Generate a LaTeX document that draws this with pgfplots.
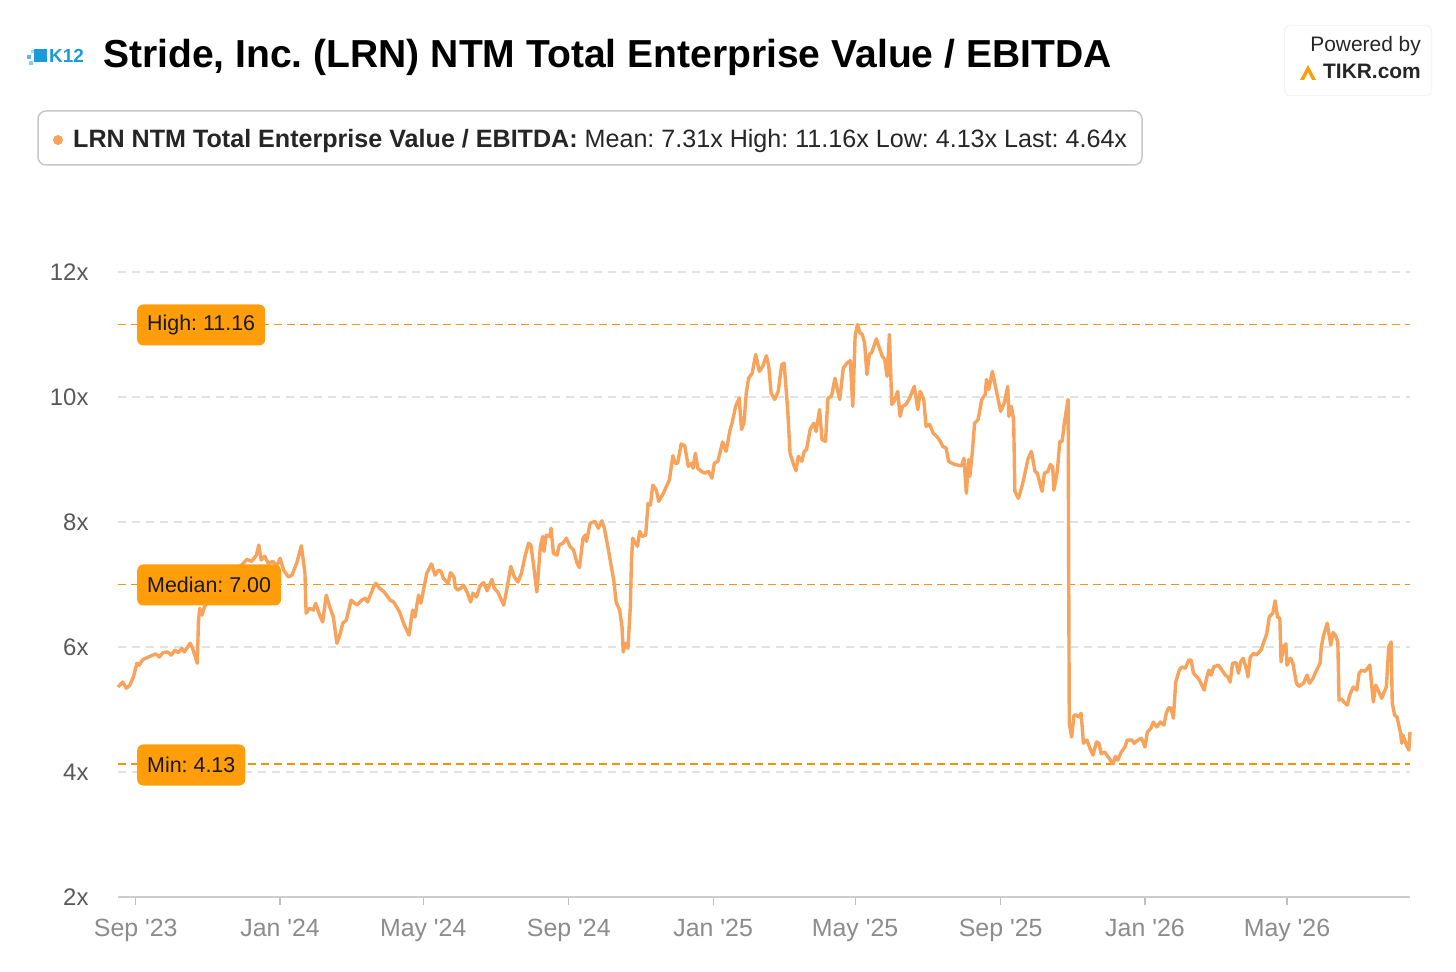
\documentclass[border=0pt]{standalone}
\usepackage{pgfplots}
\pgfplotsset{compat=1.18}
\usepackage{fontspec}
\setmainfont{Liberation Sans}
\frenchspacing
\definecolor{lineor}{HTML}{F7A35C}
\definecolor{dashor}{HTML}{F5940A}
\definecolor{boxor}{HTML}{FF9D0B}
\definecolor{gridc}{HTML}{E2E2E2}
\definecolor{xlab}{HTML}{8C8C8C}
\definecolor{ylab}{HTML}{595959}
\definecolor{k12blue}{HTML}{1B9BD7}
\pgfplotstableread{
d v
-15 5.36
-11 5.44
-8 5.34
-5 5.39
-2 5.52
1 5.74
3 5.71
6 5.80
12 5.85
17 5.89
20 5.84
23 5.91
27 5.92
30 5.87
33 5.95
36 5.91
39 5.98
41 5.92
46 6.06
48 5.98
52 5.74
53 6.40
54 6.62
56 6.51
58 6.64
60 6.70
67 6.85
75 7.05
84 7.22
91 7.34
94 7.40
98 7.37
102 7.47
104 7.63
106 7.39
109 7.45
112 7.34
116 7.37
119 7.29
122 7.42
125 7.23
129 7.12
132 7.15
136 7.34
140 7.62
143 7.18
144 6.54
147 6.62
150 6.59
152 6.70
156 6.48
158 6.40
161 6.83
164 6.64
167 6.48
170 6.06
172 6.16
175 6.38
178 6.43
182 6.75
187 6.67
191 6.75
194 6.78
196 6.72
201 6.96
203 7.02
206 6.94
210 6.88
215 6.75
218 6.72
223 6.56
227 6.35
231 6.19
234 6.59
236 6.48
239 6.83
241 6.70
246 7.18
250 7.33
253 7.15
256 7.23
258 7.21
260 7.10
264 7.02
266 7.19
269 7.12
270 6.96
272 6.91
275 6.94
277 6.99
280 6.88
283 6.72
285 6.86
288 6.80
291 6.98
294 7.03
297 6.90
301 7.08
303 6.94
306 6.88
311 6.67
313 6.86
317 7.29
320 7.12
323 7.04
326 7.18
329 7.45
332 7.66
334 7.63
336 7.34
339 6.88
342 7.61
344 7.77
345 7.53
347 7.79
350 7.77
351 7.90
353 7.50
356 7.47
358 7.63
361 7.66
364 7.74
367 7.61
370 7.55
373 7.34
375 7.27
378 7.74
380 7.79
381 7.69
384 7.98
388 8.01
391 7.90
394 8.02
396 7.90
398 7.71
401 7.39
404 7.07
406 6.72
409 6.59
411 6.32
412 5.92
414 6.06
416 5.98
418 6.64
419 7.39
420 7.74
424 7.61
426 7.85
428 7.77
431 7.79
433 8.30
435 8.27
437 8.59
440 8.51
442 8.33
446 8.46
449 8.59
451 8.67
454 9.06
456 8.94
458 8.94
461 9.25
464 9.22
467 8.89
470 8.94
471 8.86
473 9.10
475 8.86
478 8.81
481 8.78
484 8.81
487 8.70
489 8.94
492 8.97
496 9.28
499 9.13
502 9.45
504 9.58
507 9.85
510 9.98
512 9.48
514 9.58
516 10.06
518 10.30
521 10.38
524 10.68
527 10.41
530 10.49
533 10.66
535 10.49
537 10.06
540 9.96
543 10.09
546 10.52
548 10.54
551 9.80
553 9.10
556 8.92
558 8.82
560 9.05
563 8.97
565 9.13
567 9.16
570 9.48
573 9.58
575 9.45
578 9.80
580 9.32
583 9.29
585 9.98
588 10.01
591 10.30
593 10.12
595 9.96
598 10.46
601 10.54
603 10.57
604 10.58
606 9.85
608 10.97
610 11.16
612 11.03
614 11.00
616 10.87
618 10.36
620 10.68
622 10.71
626 10.93
628 10.81
631 10.65
633 10.60
635 10.33
637 11.00
639 9.88
641 9.93
644 10.09
646 9.69
648 9.85
651 9.88
654 9.98
658 10.17
661 9.80
663 10.09
666 9.96
668 9.53
671 9.56
674 9.42
677 9.37
680 9.29
682 9.21
685 9.18
687 8.97
690 8.94
692 8.92
695 8.91
698 8.90
700 9.02
702 8.46
704 9.00
705 8.73
707 9.10
709 9.58
712 9.64
715 9.96
718 10.04
719 10.28
721 10.12
724 10.41
728 10.04
731 9.77
734 9.90
737 10.17
738 9.69
740 9.85
742 9.64
743 8.49
746 8.38
749 8.57
751 8.73
754 9.00
757 9.13
760 8.81
762 8.78
766 8.49
768 8.78
771 8.81
773 8.92
775 8.88
776 8.51
779 8.83
781 9.29
783 9.29
785 9.61
788 9.96
789 4.78
791 4.56
793 4.91
795 4.91
797 4.88
799 4.94
801 4.46
804 4.51
806 4.40
809 4.27
812 4.48
814 4.46
816 4.29
819 4.32
823 4.21
826 4.13
828 4.25
830 4.19
833 4.32
836 4.40
838 4.51
842 4.51
844 4.46
847 4.51
850 4.54
853 4.40
855 4.64
858 4.70
860 4.80
863 4.72
866 4.80
869 4.75
871 4.94
873 5.03
875 5.02
877 4.86
879 5.44
882 5.63
884 5.68
887 5.66
890 5.79
892 5.79
894 5.58
897 5.52
899 5.47
903 5.31
905 5.50
907 5.63
909 5.55
911 5.68
915 5.71
918 5.63
921 5.55
923 5.52
925 5.44
927 5.74
930 5.75
932 5.58
934 5.77
936 5.82
939 5.63
940 5.52
942 5.84
945 5.90
947 5.87
951 5.95
954 6.11
956 6.22
958 6.48
961 6.54
963 6.74
965 6.48
967 6.46
968 5.76
970 6.00
972 6.05
973 5.71
976 5.82
978 5.74
981 5.42
983 5.37
987 5.42
990 5.55
992 5.42
995 5.50
998 5.63
1001 5.74
1002 6.00
1004 6.19
1007 6.38
1009 6.16
1010 6.03
1012 6.23
1014 6.19
1016 6.08
1017 5.15
1019 5.17
1021 5.12
1024 5.07
1026 5.23
1029 5.36
1032 5.31
1034 5.58
1036 5.63
1039 5.61
1041 5.66
1043 5.71
1046 5.12
1048 5.39
1050 5.31
1053 5.18
1057 5.36
1059 6.00
1061 6.08
1062 5.10
1064 4.91
1066 4.88
1069 4.62
1070 4.46
1071 4.59
1074 4.43
1076 4.35
1077 4.64
}\ratio
\begin{document}
\begin{tikzpicture}
\begin{scope}[x=1bp,y=1bp]
\useasboundingbox (0,0) rectangle (1456,971);
\fill[white] (0,0) rectangle (1456,971);
% K12 logo
\fill[k12blue!70] (27,912) rectangle (31,916);
\fill[k12blue!50] (29,906) rectangle (33,910);
\fill[k12blue] (34,909) rectangle (47,922);
\fill[k12blue!40] (31,918) rectangle (34,921);
\node[anchor=base west, inner sep=0, text=k12blue, font=\fontsize{19}{19}\selectfont\bfseries] at (49,908) {K12};
% title
\node[anchor=base west, inner sep=0, text=black, font=\fontsize{39.2}{39.2}\selectfont\bfseries] at (103,903) {Stride, Inc. (LRN) NTM Total Enterprise Value / EBITDA};
% powered by
\fill[black!4, rounded corners=6bp] (1284,875) rectangle (1432,946);
\fill[white, rounded corners=6bp] (1285,876) rectangle (1431,945);
\node[anchor=base east, inner sep=0, text=black!85, font=\fontsize{21}{21}\selectfont] at (1421,919) {Powered by};
\node[anchor=base east, inner sep=0, text=black!85, font=\fontsize{21}{21}\selectfont\bfseries] at (1421,892) {TIKR.com};
\fill[boxor] (1300,891) -- (1308,906) -- (1316,891) -- (1312,891) -- (1308,899) -- (1304,891) -- cycle;
% legend box
\draw[black!22, line width=1.5bp, rounded corners=8bp] (38,806) rectangle (1142,860);
\fill[lineor] (58,831) circle (5);
\node[anchor=base west, inner sep=0, text=black!85, font=\fontsize{25.2}{25.2}\selectfont] at (73,823) {\textbf{LRN NTM Total Enterprise Value / EBITDA:} Mean: 7.31x High: 11.16x Low: 4.13x Last: 4.64x};
\end{scope}
\begin{axis}[
  at={(118bp,74bp)}, anchor=south west,
  scale only axis, width=1292bp, height=625bp,
  xmin=-15, xmax=1077, ymin=2, ymax=12,
  axis x line*=bottom, axis y line*=left,
  y axis line style={draw=none},
  x axis line style={draw=black!20, line width=1.2bp},
  xtick={0,122,243,366,488,608,731,853,973},
  xticklabels={Sep \textquotesingle 23,Jan \textquotesingle 24,May \textquotesingle 24,Sep \textquotesingle 24,Jan \textquotesingle 25,May \textquotesingle 25,Sep \textquotesingle 25,Jan \textquotesingle 26,May \textquotesingle 26},
  ytick={2,4,6,8,10,12},
  yticklabels={2x,4x,6x,8x,10x,12x},
  tick align=outside,
  xtick style={draw=black!25, line width=1.2bp},
  ytick style={draw=none},
  major tick length=8bp,
  xticklabel style={font=\fontsize{25}{25}\selectfont, text=xlab, yshift=-11bp},
  yticklabel style={font=\fontsize{24}{24}\selectfont, text=ylab, xshift=-18bp},
  ymajorgrids,
  major grid style={draw=gridc, line width=1.3bp, dash pattern=on 8bp off 6bp},
  clip=false,
]
\addplot[dashor, line width=1.6bp, dash pattern=on 8bp off 5bp, forget plot] coordinates {(-15,11.16) (1077,11.16)};
\addplot[dashor, line width=1.6bp, dash pattern=on 8bp off 5bp, forget plot] coordinates {(-15,7.00) (1077,7.00)};
\addplot[dashor, line width=1.6bp, dash pattern=on 8bp off 5bp, forget plot] coordinates {(-15,4.13) (1077,4.13)};
\addplot[lineor, line width=3.4bp, line join=round, no marks] table[x=d, y=v] {\ratio};
\end{axis}
\begin{scope}[x=1bp,y=1bp]
\tikzset{lab/.style={anchor=west, fill=boxor, rounded corners=6bp, inner xsep=10bp, minimum height=41bp, text=black!90, font=\fontsize{21.5}{21.5}\selectfont}}
\node[lab] at (137,646) {High: 11.16};
\node[lab] at (137,386) {Median: 7.00};
\node[lab] at (137,206) {Min: 4.13};
\end{scope}
\end{tikzpicture}
\end{document}
